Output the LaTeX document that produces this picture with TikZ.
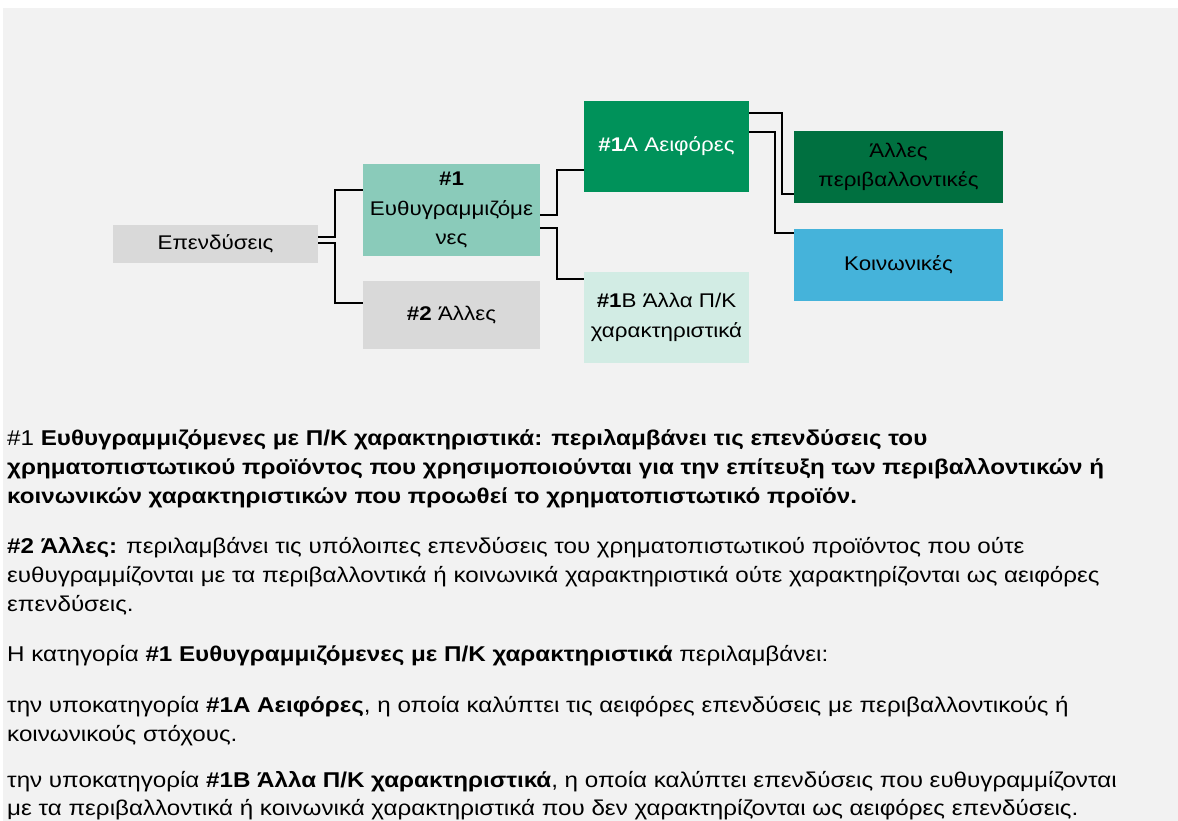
\documentclass[tikz,border=0pt]{standalone}
\usepackage{fontspec}
\setmainfont{Liberation Sans}[FakeStretch=1.13]
\definecolor{bgc}{RGB}{242,242,242}
\definecolor{grayb}{RGB}{217,217,217}
\definecolor{tealb}{RGB}{138,203,186}
\definecolor{greenb}{RGB}{0,146,90}
\definecolor{mintb}{RGB}{210,236,228}
\definecolor{darkg}{RGB}{0,112,64}
\definecolor{blueb}{RGB}{69,179,218}
\tikzset{
  box/.style={inner sep=0pt, align=center, font=\fontsize{19.8}{29.5}\selectfont},
  conn/.style={draw=black, line width=1.8pt},
  para/.style={anchor=base west, inner sep=0pt, font=\fontsize{21.4}{29}\selectfont}
}
\begin{document}
\begin{tikzpicture}[x=1pt,y=-1pt]
\useasboundingbox (0,0) rectangle (1178,821);
\fill[white] (0,0) rectangle (1178,821);
\fill[bgc] (3,8) rectangle (1178,821);
% boxes
\node[box, fill=grayb, minimum width=205pt, minimum height=38pt] (inv) at (215.5,244) {Επενδύσεις};
\node[box, fill=tealb, minimum width=177pt, minimum height=92pt] (b1) at (451.5,210) {\textbf{\#1}\\Ευθυγραμμιζόμε\\νες};
\node[box, fill=grayb, minimum width=177pt, minimum height=68pt] (b2) at (451.5,315) {\textbf{\#2} Άλλες};
\node[box, fill=greenb, text=white, minimum width=165pt, minimum height=91pt] (b1a) at (666.5,146.5) {\textbf{\#1}A Αειφόρες};
\node[box, fill=mintb, minimum width=165pt, minimum height=91pt] (b1b) at (666.5,317.5) {\textbf{\#1}B Άλλα Π/Κ\\χαρακτηριστικά};
\node[box, fill=darkg, minimum width=209pt, minimum height=72pt] (env) at (898.5,167) {Άλλες\\περιβαλλοντικές};
\node[box, fill=blueb, minimum width=209pt, minimum height=72pt] (soc) at (898.5,265) {Κοινωνικές};
% connectors
\draw[conn] ([yshift=7pt]inv.east) -- ++(17,0) |- ([yshift=20pt]b1.west);
\draw[conn] ([yshift=1pt]inv.east) -- ++(17,0) |- ([yshift=12pt]b2.west);
\draw[conn] ([yshift=-5pt]b1.east) -- ++(17,0) |- ([yshift=-23.5pt]b1a.west);
\draw[conn] ([yshift=-18pt]b1.east) -- ++(17,0) |- ([yshift=38.5pt]b1b.west);
\draw[conn] ([yshift=33.5pt]b1a.east) -- ++(33,0) |- ([yshift=-27pt]env.west);
\draw[conn] ([yshift=14.5pt]b1a.east) -- ++(26,0) |- ([yshift=32pt]soc.west);
% text
\node[para] (p1a) at (7,445) {\#1 \textbf{Ευθυγραμμιζόμενες με Π/Κ χαρακτηριστικά: περιλαμβάνει τις επενδύσεις του}};
\node[para] (p1b) at (7,474) {\textbf{χρηματοπιστωτικού προϊόντος που χρησιμοποιούνται για την επίτευξη των περιβαλλοντικών ή}};
\node[para] (p1c) at (7,503) {\textbf{κοινωνικών χαρακτηριστικών που προωθεί το χρηματοπιστωτικό προϊόν.}};
\node[para] (p2a) at (7,553) {\textbf{\#2 Άλλες:} περιλαμβάνει τις υπόλοιπες επενδύσεις του χρηματοπιστωτικού προϊόντος που ούτε};
\node[para] (p2b) at (7,582) {ευθυγραμμίζονται με τα περιβαλλοντικά ή κοινωνικά χαρακτηριστικά ούτε χαρακτηρίζονται ως αειφόρες};
\node[para] (p2c) at (7,611) {επενδύσεις.};
\node[para] (p3) at (7,661) {Η κατηγορία \textbf{\#1 Ευθυγραμμιζόμενες με Π/Κ χαρακτηριστικά} περιλαμβάνει:};
\node[para] (p4a) at (7,712) {την υποκατηγορία \textbf{\#1A Αειφόρες}, η οποία καλύπτει τις αειφόρες επενδύσεις με περιβαλλοντικούς ή};
\node[para] (p4b) at (7,741) {κοινωνικούς στόχους.};
\node[para] (p5a) at (7,787) {την υποκατηγορία \textbf{\#1B Άλλα Π/Κ χαρακτηριστικά}, η οποία καλύπτει επενδύσεις που ευθυγραμμίζονται};
\node[para] (p5b) at (7,815) {με τα περιβαλλοντικά ή κοινωνικά χαρακτηριστικά που δεν χαρακτηρίζονται ως αειφόρες επενδύσεις.};
\end{tikzpicture}
\end{document}
